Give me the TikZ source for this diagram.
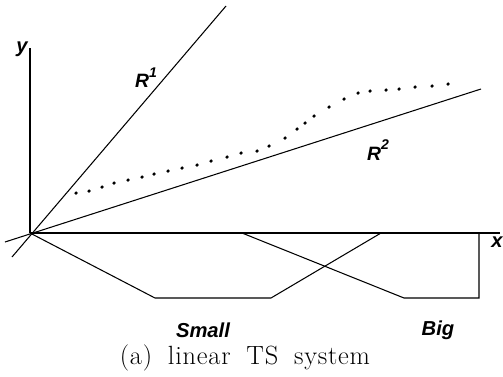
\documentclass[tikz,border=0pt]{standalone}
\usepackage{fontspec}
\setsansfont{Liberation Sans}
\newfontfamily\capfont[LetterSpace=3,WordSpace=1.8]{Latin Modern Roman}
\newcommand\supfig[1]{\raisebox{1.0ex}{\fontsize{8}{9}\selectfont #1}}
\tikzset{
  axlabel/.style={font=\sffamily\bfseries\itshape\fontsize{11.5}{13}\selectfont, inner sep=0pt},
  rulelabel/.style={font=\sffamily\bfseries\itshape\fontsize{11}{13}\selectfont, inner sep=0pt},
  dot/.style={fill=black},
}
\begin{document}
\begin{tikzpicture}[x=0.02cm,y=-0.02cm,line width=0.6pt]
  \useasboundingbox (0,0) rectangle (503,376);
  % axes
  \coordinate (O) at (30,233);
  \coordinate (ytop) at (30,48);
  \coordinate (xend) at (500,233);
  \draw (O) -- (ytop);
  \draw (O) -- (xend);
  \node[axlabel] (ylab) at (22,49) {y};
  \node[axlabel] (xlab) at (497,242) {x};
  % rule lines
  \coordinate (r1lo) at (12,257);
  \coordinate (r1hi) at (226,6);
  \coordinate (r2lo) at (5,242);
  \coordinate (r2hi) at (481,89);
  \draw (r1lo) -- (r1hi);
  \draw (r2lo) -- (r2hi);
  \node[rulelabel] (r1lab) at (146,78) {R\supfig{1}};
  \node[rulelabel] (r2lab) at (378,150) {R\supfig{2}};
  % membership functions
  \coordinate (s1) at (155,298);
  \coordinate (s2) at (271,298);
  \coordinate (s3) at (381,233);
  \coordinate (b0) at (242,233);
  \coordinate (b1) at (404,298);
  \coordinate (b2) at (479,298);
  \coordinate (b3) at (479,233);
  \draw (O) -- (s1) -- (s2) -- (s3);
  \draw (b0) -- (b1) -- (b2) -- (b3);
  \node[axlabel] (small) at (203,330) {Small};
  \node[axlabel] (big) at (438,330) {Big};
  % nonlinear output
  \fill[dot] (76,193) circle (1pt);
  \fill[dot] (89,191) circle (1pt);
  \fill[dot] (102,187) circle (1pt);
  \fill[dot] (114,183) circle (1pt);
  \fill[dot] (128,180) circle (1pt);
  \fill[dot] (142,177) circle (1pt);
  \fill[dot] (154,174) circle (1pt);
  \fill[dot] (168,171) circle (1pt);
  \fill[dot] (182,168) circle (1pt);
  \fill[dot] (197,165) circle (1pt);
  \fill[dot] (211,161) circle (1pt);
  \fill[dot] (227,157) circle (1pt);
  \fill[dot] (241,153) circle (1pt);
  \fill[dot] (257,151) circle (1pt);
  \fill[dot] (269,146) circle (1pt);
  \fill[dot] (285,138) circle (1pt);
  \fill[dot] (297,129) circle (1pt);
  \fill[dot] (305,123) circle (1pt);
  \fill[dot] (314,116) circle (1pt);
  \fill[dot] (329,107) circle (1pt);
  \fill[dot] (344,99) circle (1pt);
  \fill[dot] (358,93) circle (1pt);
  \fill[dot] (370,91) circle (1pt);
  \fill[dot] (386,90) circle (1pt);
  \fill[dot] (399,89) circle (1pt);
  \fill[dot] (415,87) circle (1pt);
  \fill[dot] (432,86) circle (1pt);
  \fill[dot] (448,84) circle (1pt);
  \node[font=\capfont\fontsize{15}{17}\selectfont, inner sep=0pt, anchor=base] (caption) at (245,364) {(a) linear TS system};
\end{tikzpicture}
\end{document}
